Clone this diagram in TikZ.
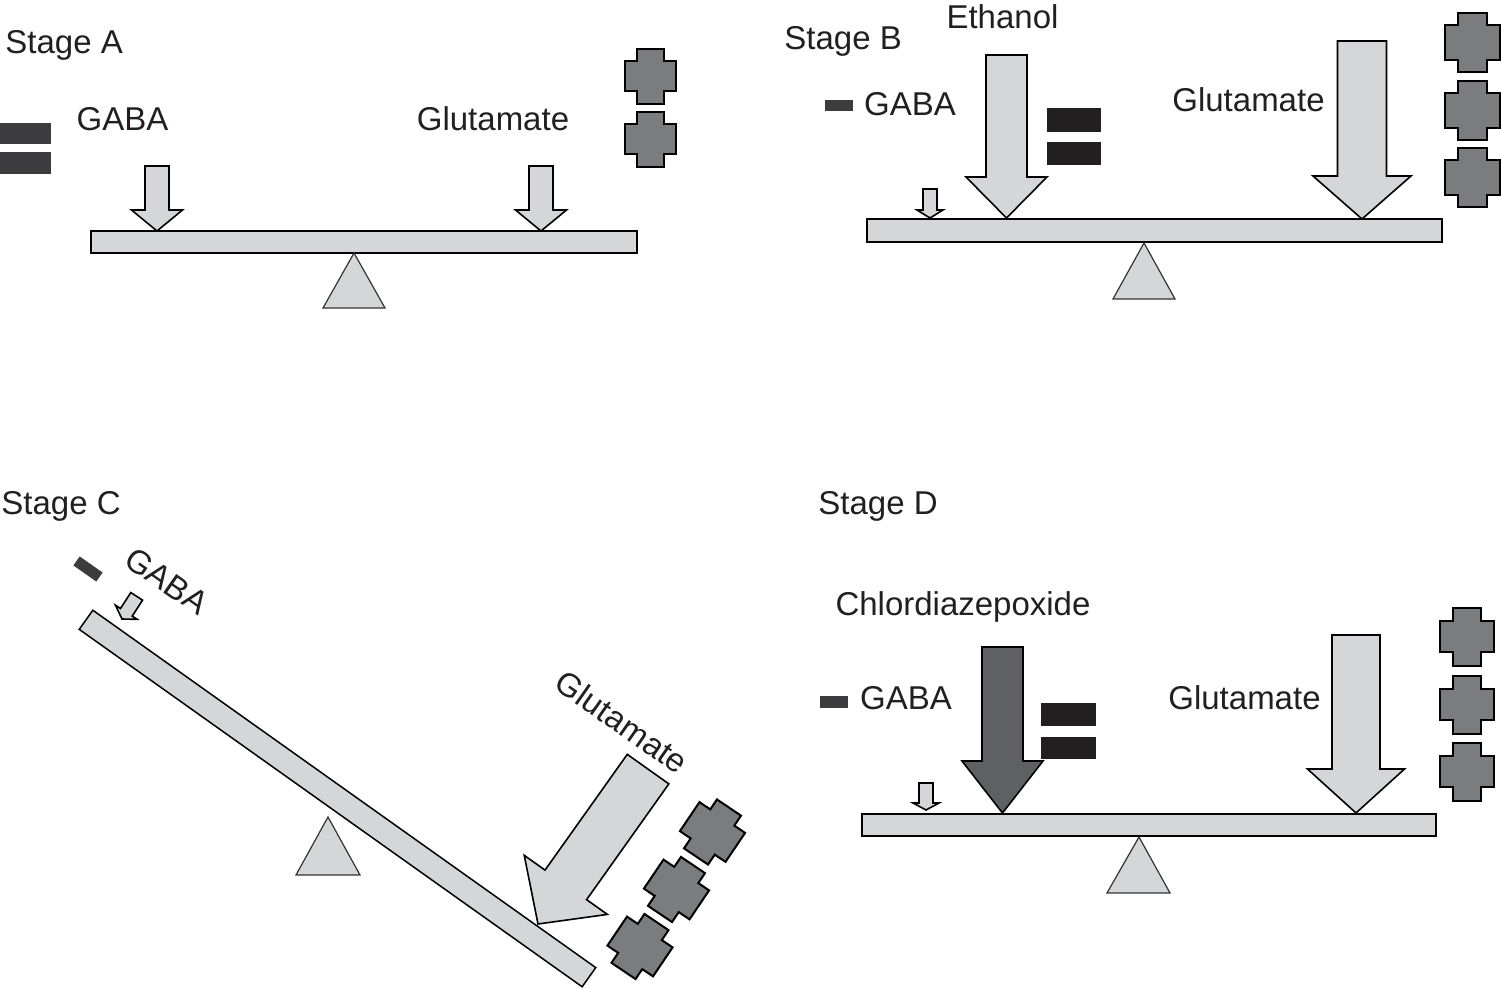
\documentclass[tikz,border=0pt]{standalone}
\usepackage{fontspec}
\setmainfont{Liberation Sans}
\definecolor{beamgray}{HTML}{D5D6D8}
\definecolor{plusgray}{HTML}{7B7C7E}
\definecolor{darkarrow}{HTML}{5F6062}
\definecolor{bargray}{HTML}{3C3C3E}
\definecolor{barblack}{HTML}{231F20}
\definecolor{txt}{HTML}{231F20}
% #1 style, #2 cx, #3 half shaft, #4 half head, #5 top, #6 head y, #7 tip y
\newcommand\varrow[7]{\draw[#1] (#2-#3,#5) -- (#2+#3,#5) -- (#2+#3,#6) -- (#2+#4,#6) -- (#2,#7) -- (#2-#4,#6) -- (#2-#3,#6) -- cycle;}
% [rot] cx cy halfW halfH halfArmW halfArmH
\newcommand\crossat[7][0]{\draw[plusstyle,shift={(#2,#3)},rotate=#1] (-#6,-#5) -- (#6,-#5) -- (#6,-#7) -- (#4,-#7) -- (#4,#7) -- (#6,#7) -- (#6,#5) -- (-#6,#5) -- (-#6,#7) -- (-#4,#7) -- (-#4,-#7) -- (-#6,-#7) -- cycle;}
\tikzset{
  beam/.style={fill=beamgray,draw=black,line width=0.75pt},
  fulcrum/.style={fill=beamgray,draw=black!80,line width=0.6pt},
  lightarrow/.style={fill=beamgray,draw=black,line width=0.8pt,line join=miter},
  darkarr/.style={fill=darkarrow,draw=black,line width=0.8pt,line join=miter},
  plusstyle/.style={fill=plusgray,draw=black,line width=1pt,line join=miter},
  graybar/.style={fill=bargray,draw=none},
  blackbar/.style={fill=barblack,draw=none},
  lbl/.style={text=txt,font=\fontsize{16.5}{19.8}\selectfont,inner sep=0pt},
}
\begin{document}
\begin{tikzpicture}[x=0.5pt,y=-0.5pt]
\useasboundingbox (0,0) rectangle (1501,988);
% ---------------- Stage A ----------------
\node[lbl,anchor=base west] (stA) at (5,54) {Stage A};
\node[lbl,anchor=base] (gabaA) at (122.5,131) {GABA};
\node[lbl,anchor=base] (gluA) at (493,131) {Glutamate};
\fill[graybar] (0,123) rectangle (51,144);
\fill[graybar] (0,152) rectangle (51,174);
\crossat{650.5}{76.5}{25.5}{27.5}{13.5}{15}
\crossat{650.5}{139.5}{25.5}{27.5}{13.5}{15}
\varrow{lightarrow}{157}{12}{25.5}{166}{210}{231}
\varrow{lightarrow}{541}{12}{25.5}{166}{210}{231}
\draw[beam] (91,231) rectangle (637,253);
\draw[fulcrum] (354,253) -- (385,308) -- (323,308) -- cycle;
% ---------------- Stage B ----------------
\node[lbl,anchor=base west] (stB) at (784,50) {Stage B};
\node[lbl,anchor=base] (ethB) at (1002.5,29) {Ethanol};
\node[lbl,anchor=base] (gabaB) at (910,116) {GABA};
\node[lbl,anchor=base] (gluB) at (1248.5,112) {Glutamate};
\fill[graybar] (825,100) rectangle (853,111);
\fill[blackbar] (1047,108) rectangle (1101,132);
\fill[blackbar] (1047,142) rectangle (1101,165);
\crossat{1472.5}{42.5}{27.5}{29.5}{14.5}{17.5}
\crossat{1472.5}{111}{27.5}{29.5}{14.5}{17.5}
\crossat{1472.5}{177.5}{27.5}{29.5}{14.5}{17.5}
\varrow{lightarrow}{930}{7}{13}{189}{210}{218}
\varrow{lightarrow}{1006.5}{20.5}{40.5}{55}{177}{218}
\varrow{lightarrow}{1362}{24.5}{49}{41}{176}{219}
\draw[beam] (867,219) rectangle (1442,242);
\draw[fulcrum] (1144,243) -- (1175,299) -- (1113,299) -- cycle;
% ---------------- Stage C ----------------
\node[lbl,anchor=base west] (stC) at (1,515) {Stage C};
\node[lbl,rotate=-35] (gabaC) at (167,581) {GABA};
\node[lbl,rotate=-35] (gluC) at (622,722) {Glutamate};
\fill[graybar,shift={(88,569)},rotate=-35] (-14,-5.5) rectangle (14,5.5);
\begin{scope}[shift={(122,619)},rotate=-33]
\varrow{lightarrow}{0}{7}{13}{-27}{-8}{0}
\end{scope}
\draw[fulcrum] (328,817) -- (360,875) -- (296,875) -- cycle;
\draw[beam,shift={(337.5,798.5)},rotate=-35.4] (-308.5,-11.75) rectangle (308.5,11.75);
\begin{scope}[shift={(538,924)},rotate=-35.4]
\varrow{lightarrow}{0}{25.5}{51}{-190}{-48}{0}
\end{scope}
\crossat[-34]{712.5}{832}{27.5}{29.5}{14.5}{17.5}
\crossat[-34]{676.5}{889.5}{27.5}{29.5}{14.5}{17.5}
\crossat[-34]{640}{946.5}{27.5}{29.5}{14.5}{17.5}
% ---------------- Stage D ----------------
\node[lbl,anchor=base west] (stD) at (818,515) {Stage D};
\node[lbl,anchor=base] (chlD) at (963,616) {Chlordiazepoxide};
\node[lbl,anchor=base] (gabaD) at (906,710) {GABA};
\node[lbl,anchor=base] (gluD) at (1244.5,710) {Glutamate};
\fill[graybar] (820,696) rectangle (848,708);
\fill[blackbar] (1041,703) rectangle (1096,726);
\fill[blackbar] (1041,737) rectangle (1096,759);
\crossat{1467}{637}{27}{29}{14}{15.5}
\crossat{1467}{705}{27}{29}{14}{15.5}
\crossat{1467}{772}{27}{29}{14}{15.5}
\varrow{lightarrow}{926}{7}{13}{783}{803}{810}
\varrow{darkarr}{1002.5}{20.5}{40.5}{647}{761}{813}
\varrow{lightarrow}{1356}{24}{48.5}{635}{769}{813}
\draw[beam] (862,814) rectangle (1436,836);
\draw[fulcrum] (1139,837) -- (1170,893) -- (1107,893) -- cycle;
\end{tikzpicture}
\end{document}
